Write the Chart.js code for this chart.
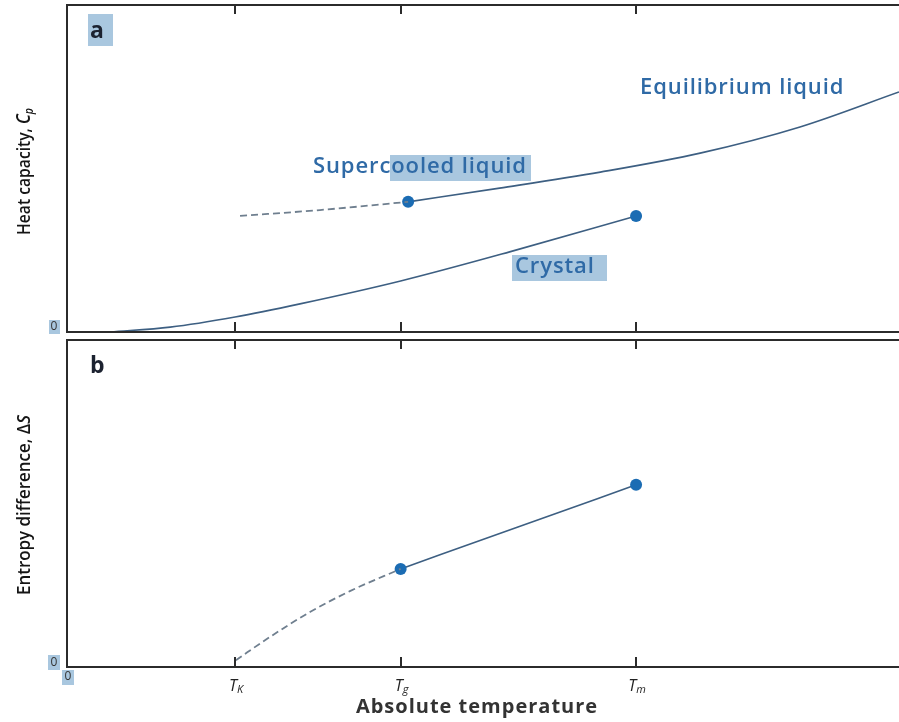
<!DOCTYPE html>
<html>
<head>
<meta charset="utf-8">
<script src="https://cdn.jsdelivr.net/npm/chart.js@4.4.0/dist/chart.umd.min.js"></script>
<style>
  html, body { margin: 0; padding: 0; background: #fff; }
  #wrap { position: relative; width: 899px; height: 722px; overflow: hidden; }
  canvas { position: absolute; left: 0; }
</style>
</head>
<body>
<div id="wrap">
  <canvas id="chartA" width="899" height="340" style="top:0"></canvas>
  <canvas id="chartB" width="899" height="386" style="top:336px"></canvas>
</div>
<script>
// x axis: absolute temperature (arbitrary units), y: arbitrary units
var tempRange = [0, 1000];
var tickTemps = [202, 401, 684];
var tickNames = [['T', 'K'], ['T', 'g'], ['T', 'm']];

// panel a: heat capacity
var liquidT = [410, 520, 641, 761, 881, 1000];
var liquidCp = [39.8, 44.0, 48.9, 54.7, 62.7, 73.4];
var supercooledT = [208, 304, 410];
var supercooledCp = [35.5, 37.3, 39.8];
var crystalT = [52, 124, 202, 280, 401, 532, 684];
var crystalCp = [0, 1.5, 4.6, 8.6, 15.6, 24.5, 35.5];

// panel b: entropy difference
var entropyDashT = [203, 244, 292, 340, 401];
var entropyDashS = [2.1, 9.2, 16.8, 23.2, 30.0];
var entropyT = [401, 542, 684];
var entropyS = [30.0, 42.8, 55.7];

var lineCol = '#3d5f82';
var dashCol = '#6f7f8f';
var dotCol = '#1b6cb3';
var textCol = '#2f6aa6';
var boxCol = '#a9c7df';
var axisCol = '#2b2b2b';
var FONT = '"Open Sans", sans-serif';

function pts(xs, ys) {
  return xs.map(function(x, i) { return { x: x, y: ys[i] }; });
}
function radii(n, idx) {
  var r = [];
  for (var i = 0; i < n; i++) r.push(idx.indexOf(i) >= 0 ? 6 : 0);
  return r;
}

function partsWidth(ctx, parts) {
  var w = 0;
  parts.forEach(function(p) { ctx.font = p[1]; w += ctx.measureText(p[0]).width; });
  return w;
}

// draws text made of parts: [text, font, dy]
function richText(ctx, parts, x, y, align) {
  var w = partsWidth(ctx, parts);
  var cx = align === 'center' ? x - w / 2 : x;
  ctx.textBaseline = 'middle';
  ctx.textAlign = 'left';
  parts.forEach(function(p) {
    ctx.font = p[1];
    ctx.fillText(p[0], cx, y + (p[2] || 0));
    cx += ctx.measureText(p[0]).width;
  });
}

var decoPlugin = {
  id: 'deco',
  beforeDatasetsDraw: function(chart, args, opts) {
    var ctx = chart.ctx;
    ctx.save();
    // highlight boxes
    ctx.fillStyle = boxCol;
    (opts.boxes || []).forEach(function(b) { ctx.fillRect(b[0], b[1], b[2], b[3]); });
    ctx.restore();
  },
  afterDraw: function(chart, args, opts) {
    var ctx = chart.ctx;
    var a = chart.chartArea;
    var xs = chart.scales.x;
    ctx.save();
    // frame: left, top, bottom
    ctx.strokeStyle = axisCol;
    ctx.lineWidth = 2;
    ctx.beginPath();
    ctx.moveTo(a.right + 2, a.top);
    ctx.lineTo(a.left, a.top);
    ctx.lineTo(a.left, a.bottom);
    ctx.lineTo(a.right + 2, a.bottom);
    ctx.stroke();
    // inward ticks
    tickTemps.forEach(function(t) {
      var px = Math.round(xs.getPixelForValue(t));
      ctx.beginPath();
      ctx.moveTo(px, a.top);
      ctx.lineTo(px, a.top + 9);
      ctx.moveTo(px, a.bottom);
      ctx.lineTo(px, a.bottom - 10);
      ctx.stroke();
    });
    // panel letter
    ctx.fillStyle = '#1c2230';
    ctx.font = 'bold 23px ' + FONT;
    ctx.textAlign = 'left';
    ctx.textBaseline = 'middle';
    ctx.fillText(opts.letter, a.left + 23, a.top + 26);
    // y axis title, rotated and squeezed to the reference length
    ctx.fillStyle = '#151515';
    ctx.translate(25, (a.top + a.bottom) / 2 + opts.titleShift);
    ctx.rotate(-Math.PI / 2);
    var w = partsWidth(ctx, opts.yTitle);
    ctx.scale(opts.titleLen / w, 1);
    richText(ctx, opts.yTitle, 0, 0, 'center');
    ctx.restore();

    // zero labels
    ctx.save();
    ctx.fillStyle = '#333';
    ctx.font = '12px ' + FONT;
    ctx.textAlign = 'center';
    ctx.textBaseline = 'middle';
    (opts.zeros || []).forEach(function(z) { ctx.fillText('0', z[0], z[1]); });

    // x tick labels and title (bottom panel only)
    if (opts.xLabels) {
      ctx.fillStyle = '#222';
      tickTemps.forEach(function(t, i) {
        var px = xs.getPixelForValue(t);
        richText(ctx, [
          [tickNames[i][0], 'italic 16px ' + FONT, 0],
          [tickNames[i][1], 'italic 11px ' + FONT, 4]
        ], px + 1, a.bottom + 19, 'center');
      });
      ctx.fillStyle = '#333';
      ctx.font = 'bold 20px ' + FONT;
      ctx.letterSpacing = '1px';
      ctx.textAlign = 'center';
      ctx.textBaseline = 'middle';
      ctx.fillText('Absolute temperature', 477, a.bottom + 40);
      ctx.letterSpacing = '0px';
    }

    // curve labels
    ctx.fillStyle = textCol;
    ctx.font = '600 22px ' + FONT;
    ctx.letterSpacing = '0.9px';
    ctx.textAlign = 'left';
    ctx.textBaseline = 'middle';
    (opts.labels || []).forEach(function(l) { ctx.fillText(l[0], l[1], l[2]); });
    ctx.letterSpacing = '0px';
    ctx.restore();
  }
};

function baseOptions(padding, deco) {
  return {
    responsive: false,
    animation: false,
    layout: { padding: padding, autoPadding: false },
    plugins: { legend: { display: false }, tooltip: { enabled: false }, deco: deco },
    scales: {
      x: { type: 'linear', min: tempRange[0], max: tempRange[1], display: false },
      y: { type: 'linear', min: 0, max: 100, display: false }
    }
  };
}

function lineSet(xs, ys, dashed, dots) {
  return {
    data: pts(xs, ys),
    borderColor: dashed ? dashCol : lineCol,
    borderDash: dashed ? [7, 4] : [],
    borderWidth: dashed ? 1.8 : 1.6,
    cubicInterpolationMode: 'monotone',
    pointRadius: radii(xs.length, dots),
    pointBackgroundColor: dotCol,
    pointBorderColor: dotCol,
    pointBorderWidth: 0,
    fill: false
  };
}

new Chart(document.getElementById('chartA'), {
  type: 'line',
  data: {
    datasets: [
      lineSet(supercooledT, supercooledCp, true, []),
      lineSet(crystalT, crystalCp, false, [crystalT.length - 1]),
      lineSet(liquidT, liquidCp, false, [0])
    ]
  },
  options: baseOptions({ left: 67, top: 5, right: 0, bottom: 8 }, {
    letter: 'a',
    titleShift: 3,
    titleLen: 127,
    yTitle: [
      ['Heat capacity, ', '600 18px ' + FONT, 0],
      ['C', 'italic 600 19px ' + FONT, 0],
      ['p', 'italic 600 12px ' + FONT, 5]
    ],
    zeros: [[54, 327]],
    boxes: [[88, 14, 25, 32], [49, 320, 11, 14], [390, 155, 141, 26], [512, 255, 95, 26]],
    labels: [
      ['Equilibrium liquid', 640, 88],
      ['Supercooled liquid', 313, 167],
      ['Crystal', 515, 267]
    ]
  }),
  plugins: [decoPlugin]
});

new Chart(document.getElementById('chartB'), {
  type: 'line',
  data: {
    datasets: [
      lineSet(entropyDashT, entropyDashS, true, []),
      lineSet(entropyT, entropyS, false, [0, entropyT.length - 1])
    ]
  },
  options: baseOptions({ left: 67, top: 4, right: 0, bottom: 55 }, {
    letter: 'b',
    titleShift: 1.5,
    titleLen: 180,
    yTitle: [
      ['Entropy difference, ', '600 18px ' + FONT, 0],
      ['\u0394', '600 18px ' + FONT, 0],
      ['S', 'italic 600 18px ' + FONT, 0]
    ],
    zeros: [[54, 327], [68, 341]],
    boxes: [[48, 319, 12, 15], [62, 334, 12, 15]],
    xLabels: true
  }),
  plugins: [decoPlugin]
});
</script>
</body>
</html>
